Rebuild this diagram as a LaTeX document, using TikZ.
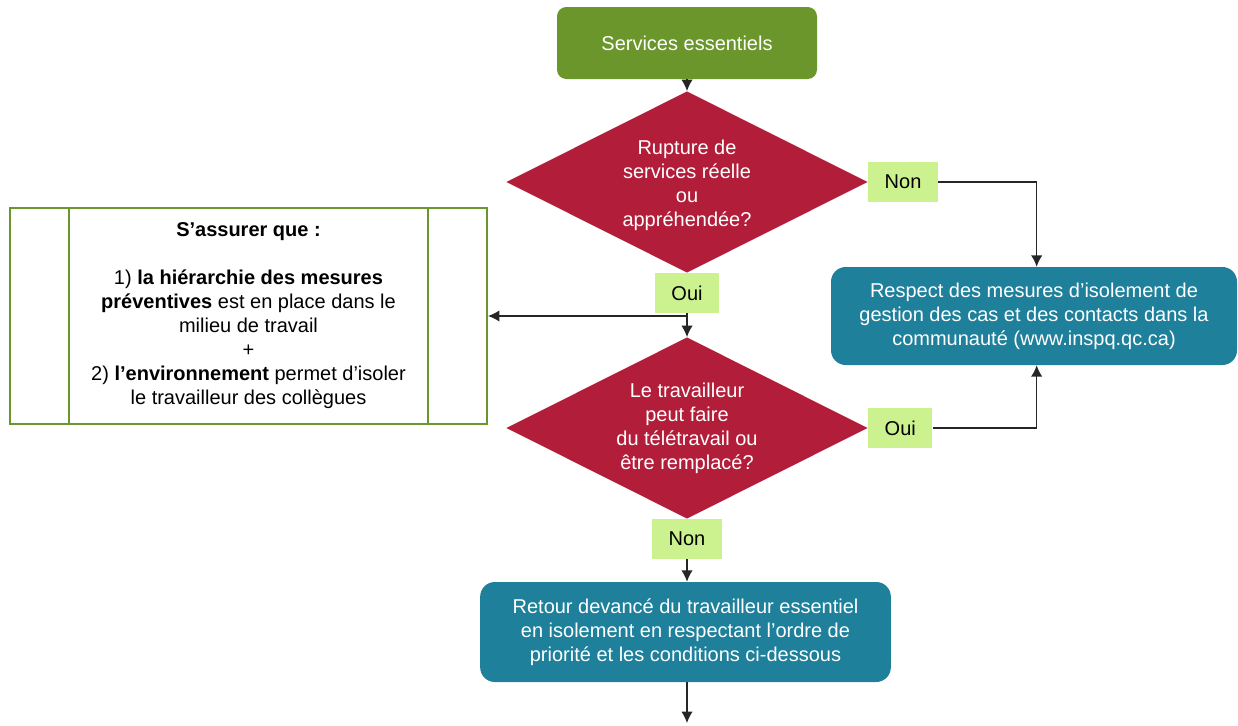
\documentclass[tikz,border=0pt]{standalone}
\usepackage{fontspec}
\setmainfont{Liberation Sans}
\usetikzlibrary{shapes.geometric,arrows.meta}
\definecolor{boxgreen}{HTML}{6B962B}
\definecolor{crimson}{HTML}{B21E3A}
\definecolor{teal}{HTML}{1E809A}
\definecolor{lablime}{HTML}{CCF290}
\tikzset{
  basefont/.style={font=\fontsize{15}{18}\selectfont},
  startbox/.style={basefont, rectangle, rounded corners=7pt, fill=boxgreen, text=white, minimum width=195pt, minimum height=54pt, inner sep=0pt},
  decision/.style={basefont, diamond, fill=crimson, text=white, align=center, aspect=2, minimum width=271pt, minimum height=136pt, inner sep=0pt},
  resultbox/.style={basefont, rectangle, rounded corners=11pt, fill=teal, text=white, align=center, inner sep=0pt},
  answer/.style={basefont, rectangle, fill=lablime, text=black, inner xsep=12.4pt, inner ysep=0pt, minimum height=30pt},
  procbox/.style={basefont, rectangle, draw=boxgreen, line width=1.5pt, align=center, minimum width=357.75pt, minimum height=162pt, inner sep=0pt},
  conn/.style={draw=black!85, line width=1pt, -{Latex[length=8.5pt,width=8.5pt]}},
  plainconn/.style={draw=black!85, line width=1pt}
}
\begin{document}
\begin{tikzpicture}[x=0.75pt,y=-0.75pt]
\useasboundingbox (0,0) rectangle (1238,725);

\node[startbox] (start) at (687,43) {Services essentiels};
\node[decision] (d1) at (687,182) {\\[-2pt]Rupture de\\services réelle\\ou\\appréhendée?};
\node[answer, anchor=west] (non1) at (d1.east) {Non};
\node[answer, anchor=north] (oui1) at (d1.south) {Oui};
\node[resultbox, minimum width=304.5pt, minimum height=73.5pt] (rb) at (1034,316)
  {Respect des mesures d’isolement de\\gestion des cas et des contacts dans la\\communauté (www.inspq.qc.ca)};
\node[procbox] (lb) at (248.5,316)
  {\textbf{S’assurer que :}\\[18pt]
   1) \textbf{la hiérarchie des mesures}\\
   \textbf{préventives} est en place dans le\\
   milieu de travail\\
   +\\
   2) \textbf{l’environnement} permet d’isoler\\
   le travailleur des collègues};
\draw[boxgreen, line width=1.5pt] ([xshift=45pt]lb.north west) -- ([xshift=45pt]lb.south west);
\draw[boxgreen, line width=1.5pt] ([xshift=-45pt]lb.north east) -- ([xshift=-45pt]lb.south east);
\node[decision] (d2) at (687,428) {Le travailleur\\peut faire\\du télétravail ou\\être remplacé?};
\node[answer, anchor=west] (oui2) at (d2.east) {Oui};
\node[answer, anchor=north] (non2) at (d2.south) {Non};
\node[resultbox, minimum width=308pt, minimum height=75pt] (bb) at (685.5,632)
  {Retour devancé du travailleur essentiel\\en isolement en respectant l’ordre de\\priorité et les conditions ci-dessous};
\coordinate (endpt) at (bb.south |- 0,723);

\draw[conn] (start) -- (d1);
\draw[conn] (non1.east) -| ([xshift=2pt]rb.north);
\draw[conn] (oui1.south) |- (lb.east);
\draw[conn] (oui1.south) -- (d2.north);
\draw[conn] (oui2.east) -| ([xshift=2pt]rb.south);
\draw[conn] (non2.south) -- (bb.north -| non2.south);
\draw[conn] (bb.south -| non2.south) -- (endpt -| non2.south);
\end{tikzpicture}
\end{document}
